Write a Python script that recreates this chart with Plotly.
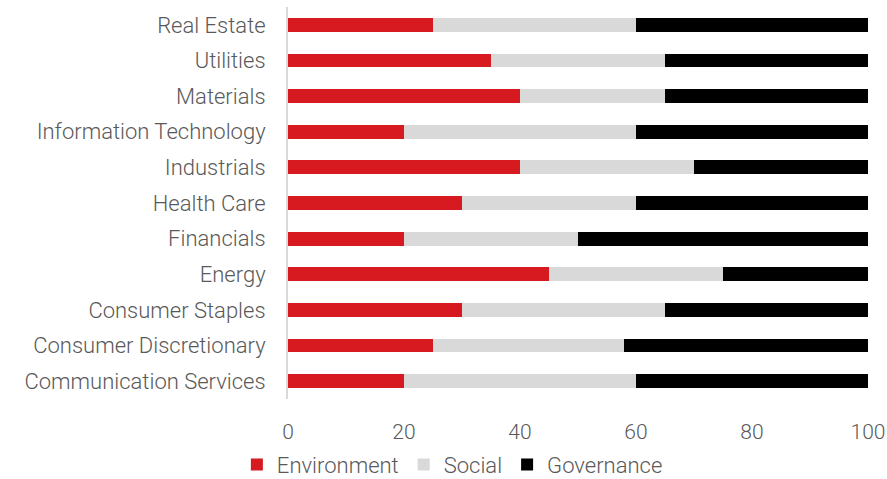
import plotly.graph_objects as go

categories = ["Communication Services", "Consumer Discretionary", "Consumer Staples", "Energy",
              "Financials", "Health Care", "Industrials", "Information Technology",
              "Materials", "Utilities", "Real Estate"]
environment = [20, 25, 30, 45, 20, 30, 40, 20, 40, 35, 25]
social = [40, 33, 35, 30, 30, 30, 30, 40, 25, 30, 35]
governance = [40, 42, 35, 25, 50, 40, 30, 40, 35, 35, 40]
x_ticks = [0, 20, 40, 60, 80, 100]

FONT = "Roboto"
GRAY = "#595959"

fig = go.Figure()
for name, vals, color in [("Environment", environment, "#D71920"),
                          ("Social", social, "#D9D9D9"),
                          ("Governance", governance, "#000000")]:
    fig.add_trace(go.Bar(y=categories, x=vals, name=name, orientation="h",
                         marker=dict(color=color, line=dict(width=0)), width=0.39))

fig.update_layout(
    barmode="stack",
    width=887, height=479,
    margin=dict(l=288, r=19, t=7, b=80, autoexpand=False),
    paper_bgcolor="white", plot_bgcolor="white",
    font=dict(family=FONT, color=GRAY, size=22, weight=300),
    showlegend=True,
    legend=dict(orientation="h", xref="container", x=0.51, xanchor="center",
                yref="container", y=0.03, yanchor="middle",
                font=dict(size=22, family=FONT, color=GRAY, weight=300),
                traceorder="normal", itemwidth=30),
    xaxis=dict(range=[0, 100], tickvals=x_ticks, showgrid=False, zeroline=False,
               showline=False, ticks="outside", ticklen=14, tickcolor="rgba(0,0,0,0)",
               automargin=False,
               tickfont=dict(size=21, family=FONT, color=GRAY, weight=300)),
    yaxis=dict(categoryorder="array", categoryarray=categories, showgrid=False,
               showline=True, linecolor="#D9D9D9", linewidth=2, automargin=False,
               ticks="outside", ticklen=16, tickcolor="rgba(0,0,0,0)",
               tickfont=dict(size=22, family=FONT, color=GRAY, weight=300)),
)
fig.write_html("out.html")
